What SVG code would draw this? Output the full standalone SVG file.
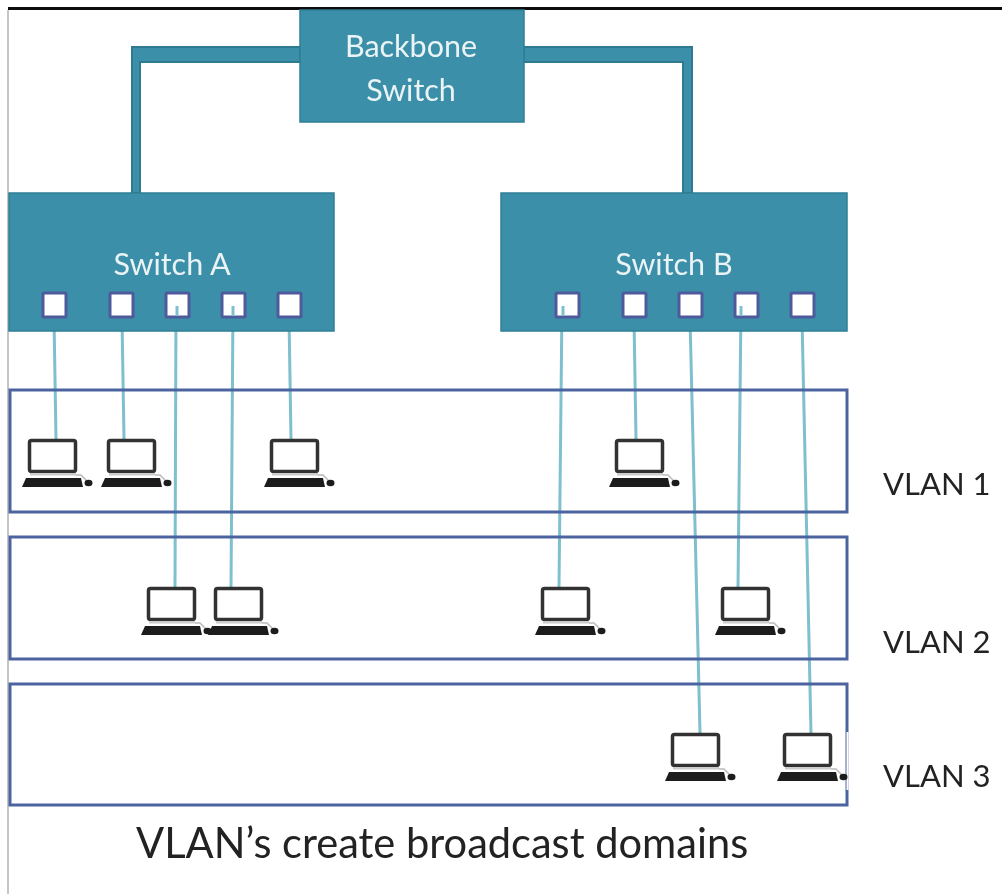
<svg xmlns="http://www.w3.org/2000/svg" width="1002" height="894" viewBox="0 0 1002 894">
<style>
.sw{fill:#3a8fa8;stroke:#2f7f96;stroke-width:1.5}
.trunk{fill:#3a8fa8;stroke:#2d7a90;stroke-width:2}
.port{fill:#fff;stroke:#4f5a9c;stroke-width:3}
.vlan{fill:none;stroke:#4c639f;stroke-width:3}
.link{stroke:#7fc0cf;stroke-width:3;fill:none}
text{font-family:Lato,"Open Sans","Liberation Sans",sans-serif}
.w{fill:#eaf3f5;font-size:30.500px;text-anchor:middle}
.k{fill:#222;font-size:31px}
.scr{fill:#fff;stroke:#333;stroke-width:3.500}
.kb{fill:#1e1e1e}
.cord{fill:none;stroke:#bbb;stroke-width:1.500}
</style>
<defs>
<filter id="soft" x="0" y="0" width="100%" height="100%"><feGaussianBlur stdDeviation="0.6"/></filter>
<g id="pc">
<rect class="scr" x="1.500" y="1.500" width="46" height="31" rx="2"/>
<rect x="2" y="34" width="46" height="2.500" fill="#ccc"/>
<polygon class="kb" points="-2,39 53,39 55,48 -6,48"/>
<path class="cord" d="M48 36 H53 L59 42"/>
<ellipse class="kb" cx="60.500" cy="44" rx="4" ry="3.200"/>
</g>
</defs>
<rect x="0" y="0" width="1002" height="894" fill="#fff"/>
<g filter="url(#soft)">
<rect x="8" y="7" width="994" height="3" fill="#111"/>
<rect x="7" y="10" width="2" height="884" fill="#c4c4c4"/>
<g id="connectors">
<path class="trunk" d="M300 47 H132 V193 H140 V62 H300 Z"/>
<path class="trunk" d="M524 47 H692 V193 H683 V62 H524 Z"/>
<path class="link" d="M54 318 L56 439"/>
<path class="link" d="M122 318 L124 439"/>
<path class="link" d="M176 305 L175 587"/>
<path class="link" d="M233 305 L231 587"/>
<path class="link" d="M289 318 L291 439"/>
<path class="link" d="M562 305 L559 587"/>
<path class="link" d="M634 318 L636 439"/>
<path class="link" d="M690 318 L700 733"/>
<path class="link" d="M741 305 L738 587"/>
<path class="link" d="M802 318 L811 733"/>
</g>
<g id="backbone-switch">
<rect class="sw" x="300" y="10" width="224" height="112"/>
<text class="w" x="411" y="57">Backbone</text>
<text class="w" x="411" y="101">Switch</text>
</g>
<g id="switch-a">
<rect class="sw" x="9" y="193" width="325" height="138"/>
<text class="w" x="172" y="275">Switch A</text>
<rect class="port" x="43" y="293" width="23" height="24" rx="1"/>
<rect class="port" x="110" y="293" width="23" height="24" rx="1"/>
<rect class="port" x="166" y="293" width="23" height="24" rx="1"/>
<rect class="port" x="222" y="293" width="23" height="24" rx="1"/>
<rect class="port" x="278" y="293" width="23" height="24" rx="1"/>
<path class="link" d="M177 306 V316"/>
<path class="link" d="M233 306 V316"/>
</g>
<g id="switch-b">
<rect class="sw" x="501" y="193" width="346" height="138"/>
<text class="w" x="674" y="275">Switch B</text>
<rect class="port" x="556" y="293" width="23" height="24" rx="1"/>
<rect class="port" x="623" y="293" width="23" height="24" rx="1"/>
<rect class="port" x="679" y="293" width="23" height="24" rx="1"/>
<rect class="port" x="735" y="293" width="23" height="24" rx="1"/>
<rect class="port" x="791" y="293" width="23" height="24" rx="1"/>
<path class="link" d="M563 306 V316"/>
<path class="link" d="M741 306 V316"/>
</g>
<g id="vlan-1">
<rect class="vlan" x="10" y="390" width="837" height="122"/>
<text class="k" x="883" y="495">VLAN 1</text>
</g>
<g id="vlan-2">
<rect class="vlan" x="10" y="537" width="837" height="122"/>
<text class="k" x="883" y="653">VLAN 2</text>
</g>
<g id="vlan-3">
<rect class="vlan" x="10" y="684" width="837" height="121"/>
<rect x="846.500" y="732" width="2" height="58" fill="#fff"/>
<text class="k" x="883" y="787">VLAN 3</text>
</g>
<g id="pc-1"><use href="#pc" x="28" y="439"/></g>
<g id="pc-2"><use href="#pc" x="107" y="439"/></g>
<g id="pc-3"><use href="#pc" x="270" y="439"/></g>
<g id="pc-4"><use href="#pc" x="615" y="439"/></g>
<g id="pc-5"><use href="#pc" x="147" y="587"/></g>
<g id="pc-6"><use href="#pc" x="214" y="587"/></g>
<g id="pc-7"><use href="#pc" x="541" y="587"/></g>
<g id="pc-8"><use href="#pc" x="721" y="587"/></g>
<g id="pc-9"><use href="#pc" x="671" y="733"/></g>
<g id="pc-10"><use href="#pc" x="783" y="733"/></g>
<text id="caption" x="136" y="858" fill="#222" font-size="41.600">VLAN’s create broadcast domains</text>
</g>
</svg>
